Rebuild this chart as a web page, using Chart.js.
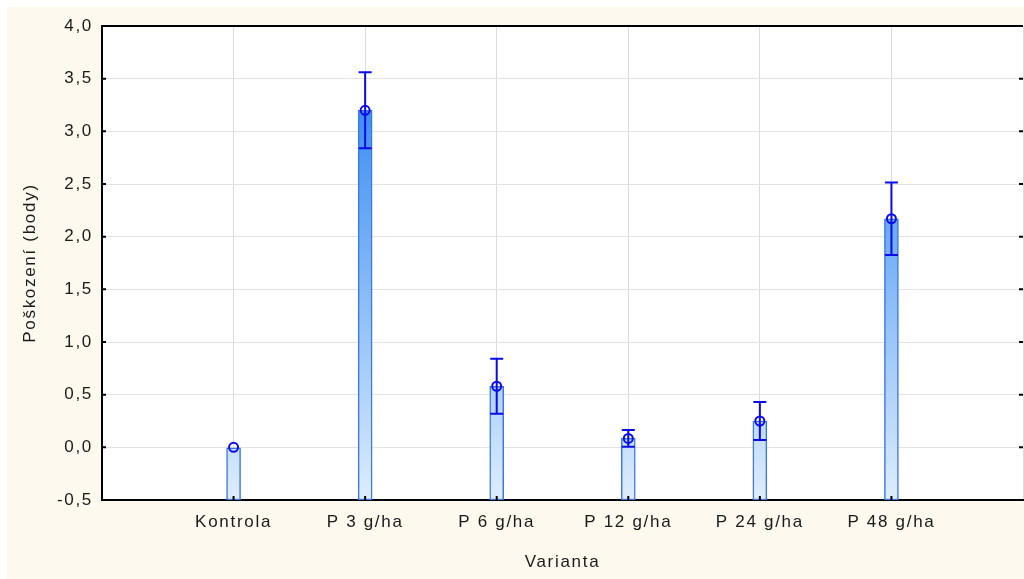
<!DOCTYPE html>
<html>
<head>
<meta charset="utf-8">
<script src="https://cdn.jsdelivr.net/npm/chart.js@4"></script>
<style>
  body { margin: 0; background: #fff; }
</style>
</head>
<body>
<canvas id="graf" width="1024" height="579"></canvas>
<script>
// varianty (prazdne misto na okrajich osy)
const varianty = ['', 'Kontrola', 'P 3 g/ha', 'P 6 g/ha', 'P 12 g/ha', 'P 24 g/ha', 'P 48 g/ha', ''];
// prumery poskozeni
const prumery = [null, 0.0, 3.2, 0.58, 0.085, 0.25, 2.17, null];
// chyby (+/-)
const chyby = [null, 0.0, 0.36, 0.26, 0.08, 0.18, 0.345, null];
const osaY = { min: -0.5, max: 4.0, krok: 0.5 };

const modra = 'rgb(10,10,235)';
const pismo = { family: '"Liberation Sans", Arial, sans-serif', size: 17 };

// pozadi + roztazene pismo
const pozadi = {
  id: 'pozadi',
  beforeUpdate(chart) { chart.ctx.letterSpacing = '1.7px'; },
  beforeDraw(chart) {
    const c = chart.ctx;
    c.letterSpacing = '1.7px';
    c.save();
    c.fillStyle = '#fdf9ee';
    c.fillRect(7, 7, chart.width - 7, chart.height - 7);
    c.fillStyle = '#fff';
    const a = chart.chartArea;
    c.fillRect(a.left, a.top, a.right - a.left, a.bottom - a.top);
    c.restore();
  }
};

// chybove usecky a ramecek
const chybovky = {
  id: 'chybovky',
  afterDatasetDraw(chart, args) {
    if (args.index !== 0) return;
    const c = chart.ctx, x = chart.scales.x, y = chart.scales.y;
    c.save();
    c.strokeStyle = modra;
    c.lineWidth = 2;
    for (let i = 0; i < prumery.length; i++) {
      if (prumery[i] === null || !chyby[i]) continue;
      const px = x.getPixelForValue(i);
      const hi = y.getPixelForValue(prumery[i] + chyby[i]);
      const lo = y.getPixelForValue(prumery[i] - chyby[i]);
      c.beginPath();
      c.moveTo(px, hi); c.lineTo(px, lo);
      c.moveTo(px - 6.5, hi); c.lineTo(px + 6.5, hi);
      c.moveTo(px - 6.5, lo); c.lineTo(px + 6.5, lo);
      c.stroke();
    }
    c.restore();
  },
  afterDraw(chart) {
    const c = chart.ctx, a = chart.chartArea, x = chart.scales.x, y = chart.scales.y;
    c.save();
    c.strokeStyle = '#000';
    c.lineWidth = 2;
    c.beginPath();
    c.moveTo(a.left, a.top); c.lineTo(a.right, a.top);
    // znacky dovnitr
    y.ticks.forEach(t => {
      const py = y.getPixelForValue(t.value);
      c.moveTo(a.left, py); c.lineTo(a.left + 4, py);
      c.moveTo(a.right, py); c.lineTo(a.right - 4, py);
    });
    for (let i = 1; i < varianty.length - 1; i++) {
      const px = x.getPixelForValue(i);
      c.moveTo(px, a.bottom); c.lineTo(px, a.bottom - 4);
    }
    c.stroke();
    c.restore();
  }
};

const ctx = document.getElementById('graf').getContext('2d');
const graf = new Chart(ctx, {
  type: 'bar',
  data: {
    labels: varianty,
    datasets: [{
      data: prumery.map(v => v === null ? null : [osaY.min, v]),
      backgroundColor: (context) => {
        const a = context.chart.chartArea;
        if (!a) return 'rgb(200,225,252)';
        const g = context.chart.ctx.createLinearGradient(0, a.bottom, 0, a.top);
        g.addColorStop(0, 'rgb(222,237,253)');
        g.addColorStop(1, 'rgb(25,122,240)');
        return g;
      },
      borderColor: 'rgb(60,120,228)',
      borderWidth: 1.5,
      borderSkipped: false,
      barThickness: 14,
      order: 2
    }, {
      type: 'line',
      data: prumery,
      showLine: false,
      borderWidth: 0,
      pointRadius: c => prumery[c.dataIndex] === null ? 0 : 4.5,
      pointBorderWidth: c => prumery[c.dataIndex] === null ? 0 : 2,
      pointBorderColor: modra,
      pointBackgroundColor: 'rgba(0,0,0,0)',
      order: 1
    }]
  },
  options: {
    responsive: false,
    animation: false,
    layout: { padding: { top: 26, right: 1, left: 0, bottom: 0 } },
    plugins: {
      legend: { display: false },
      tooltip: { enabled: false }
    },
    scales: {
      x: {
        offset: false,
        grid: { offset: false, color: '#dcdcdc', lineWidth: 1, drawTicks: false },
        border: { display: true, color: '#000', width: 2 },
        ticks: {
          autoSkip: false, maxRotation: 0, padding: 12,
          color: '#1a1a1a',
          font: pismo
        },
        title: {
          display: true, text: 'Varianta', color: '#1a1a1a',
          padding: { top: 0, bottom: 6 },
          font: pismo
        },
        afterFit(scale) {
          scale.height = 79;
          scale.paddingLeft = 0;
          scale.paddingRight = 0;
        }
      },
      y: {
        min: osaY.min,
        max: osaY.max,
        grid: { color: '#e4e4e4', lineWidth: 1, drawTicks: false },
        border: { display: true, color: '#000', width: 2 },
        ticks: {
          stepSize: osaY.krok, padding: 9,
          color: '#1a1a1a',
          font: pismo,
          callback: v => v.toFixed(1).replace('.', ',')
        },
        title: {
          display: true, text: 'Poškození (body)', color: '#1a1a1a',
          padding: { top: 20, bottom: 0 },
          font: pismo
        },
        afterFit(scale) { scale.width = 102; }
      }
    }
  },
  plugins: [pozadi, chybovky]
});
</script>
</body>
</html>
